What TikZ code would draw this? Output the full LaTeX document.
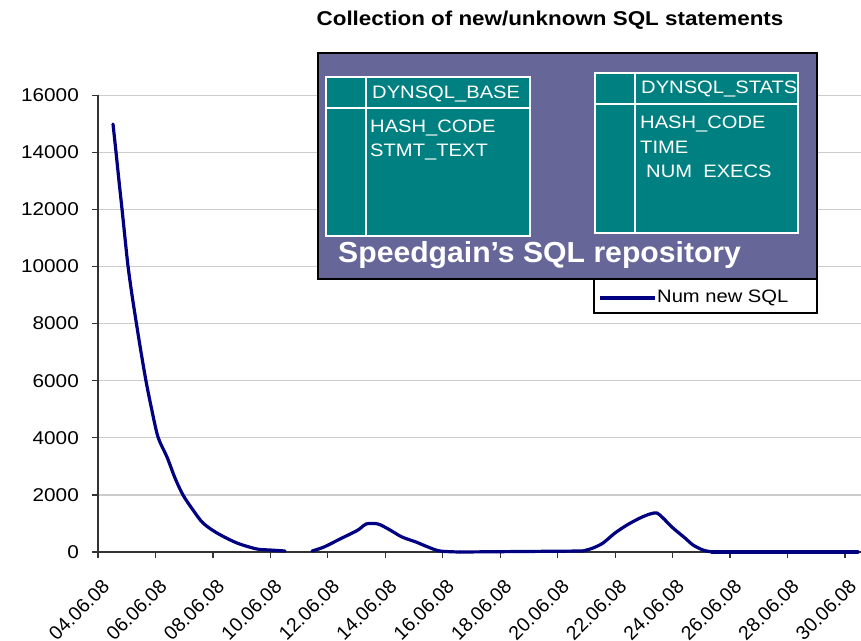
\documentclass[tikz,border=0pt]{standalone}
\usepackage{fontspec}
\setmainfont{Liberation Sans}
\usepackage{graphicx}
\definecolor{gridgray}{HTML}{CCCCCC}
\definecolor{seriesblue}{HTML}{000080}
\definecolor{repofill}{HTML}{666699}
\definecolor{tablefill}{HTML}{008080}
\tikzset{
  gridline/.style={draw=gridgray, line width=1.3pt},
  axisline/.style={draw=black!80, line width=1.3pt},
  series/.style={draw=seriesblue, line width=3.2pt, line join=round, line cap=round},
  ylab/.style={anchor=east, inner sep=0pt, font=\fontsize{18.5}{20}\selectfont},
  xlab/.style={anchor=north east, inner sep=0pt, rotate=45, font=\fontsize{19.5}{22}\selectfont},
  tablebox/.style={draw=white, fill=tablefill, line width=1.3pt},
  tabletext/.style={anchor=west, inner sep=0pt, text=white, font=\fontsize{18}{20}\selectfont},
}
\newcommand{\wide}[1]{\scalebox{1.12}[1]{#1}}
\begin{document}
\begin{tikzpicture}[x=1pt,y=-1pt]
  \useasboundingbox (0,0) rectangle (861,640);
  \fill[white] (0,0) rectangle (861,640);

  % horizontal grid lines and y tick labels
  \foreach \v [count=\i] in {2000,4000,6000,8000,10000,12000,14000,16000} {
    \pgfmathsetmacro{\yy}{552-57.1*\i}
    \draw[gridline] (98,\yy) -- (861,\yy);
    \draw[axisline] (92,\yy) -- (98,\yy);
    \node[ylab] (y\i) at (79,\yy) {\wide{\v}};
  }
  \node[ylab] (y0) at (79,552) {\wide{0}};
  \draw[axisline] (92,552) -- (98,552);

  % axes
  \draw[axisline] (98,552) -- (98,95.2);
  \draw[axisline] (98,552) -- (861,552);

  % x ticks and date labels
  \foreach \d [count=\k from 0] in {04,06,08,10,12,14,16,18,20,22,24,26,28,30} {
    \pgfmathsetmacro{\xx}{98+57.46*\k}
    \draw[axisline] (\xx,552) -- (\xx,558);
    \node[xlab] (x\k) at (\xx+3,578) {\d.06.08};
  }

  % data series
  \draw[series] plot[smooth, tension=0.5] coordinates {
    (113,124) (116,152) (119,181) (122,209) (125,238) (128,266)
    (132,295) (136.5,324) (141,352) (146,381) (151,406) (158,437) (167,457)
    (175,478) (183,495) (193,510) (203,523) (217,533) (237,543) (257,549)
    (270,550) (285,551)};
  \draw[series] plot[smooth, tension=0.5] coordinates {
    (312,551) (324,547) (340,539) (358,530) (366,524) (378,524) (390,530)
    (402,537) (416,542) (428,547) (440,551) (460,552)};
  \draw[series] (460,552) -- (583,551);
  \draw[series] plot[smooth, tension=0.5] coordinates {
    (583,551) (593,548) (603,543) (615,533) (627,525) (640,518) (650,514)
    (657,513) (663,518) (673,528) (685,538) (693,545) (703,550) (712,552)};
  \draw[series] (712,552) -- (858,552);

  % legend
  \draw[black, line width=1.3pt, fill=white] (594,270) rectangle (817,313);
  \coordinate (legA) at (600,298);
  \coordinate (legB) at (655,298);
  \draw[series, line cap=butt] (legA) -- (legB);
  \node[anchor=west, inner sep=0pt, font=\fontsize{18}{20}\selectfont] (legtext) at (657,298) {\wide{Num new SQL}};

  % title
  \node[anchor=center, inner sep=0pt, font=\bfseries\fontsize{20}{22}\selectfont] (title) at (550,20) {\wide{Collection of new/unknown SQL statements}};

  % repository panel
  \draw[black, line width=1.5pt, fill=repofill] (318,53) rectangle (817,279);

  % table DYNSQL_BASE
  \draw[tablebox] (326,77) rectangle (530,236);
  \draw[tablebox] (326,108) -- (530,108);
  \draw[tablebox] (366,77) -- (366,236);
  \node[tabletext] (t1h) at (372,94) {\wide{DYNSQL\_BASE}};
  \node[tabletext] (t1a) at (370,128) {\wide{HASH\_CODE}};
  \node[tabletext] (t1b) at (370,152) {\wide{STMT\_TEXT}};

  % table DYNSQL_STATS
  \draw[tablebox] (595,73) rectangle (798,233);
  \draw[tablebox] (595,104) -- (798,104);
  \draw[tablebox] (635,73) -- (635,233);
  \node[tabletext] (t2h) at (641,89) {\wide{DYNSQL\_STATS}};
  \node[tabletext] (t2a) at (640,124) {\wide{HASH\_CODE}};
  \node[tabletext] (t2b) at (640,147) {\wide{TIME}};
  \node[tabletext] (t2c) at (646,171) {\wide{NUM\ \ EXECS}};

  \node[anchor=west, inner sep=0pt, text=white, font=\bfseries\fontsize{29}{32}\selectfont] (repo) at (338,255) {\scalebox{1.04}[1]{Speedgain’s SQL repository}};
\end{tikzpicture}
\end{document}
